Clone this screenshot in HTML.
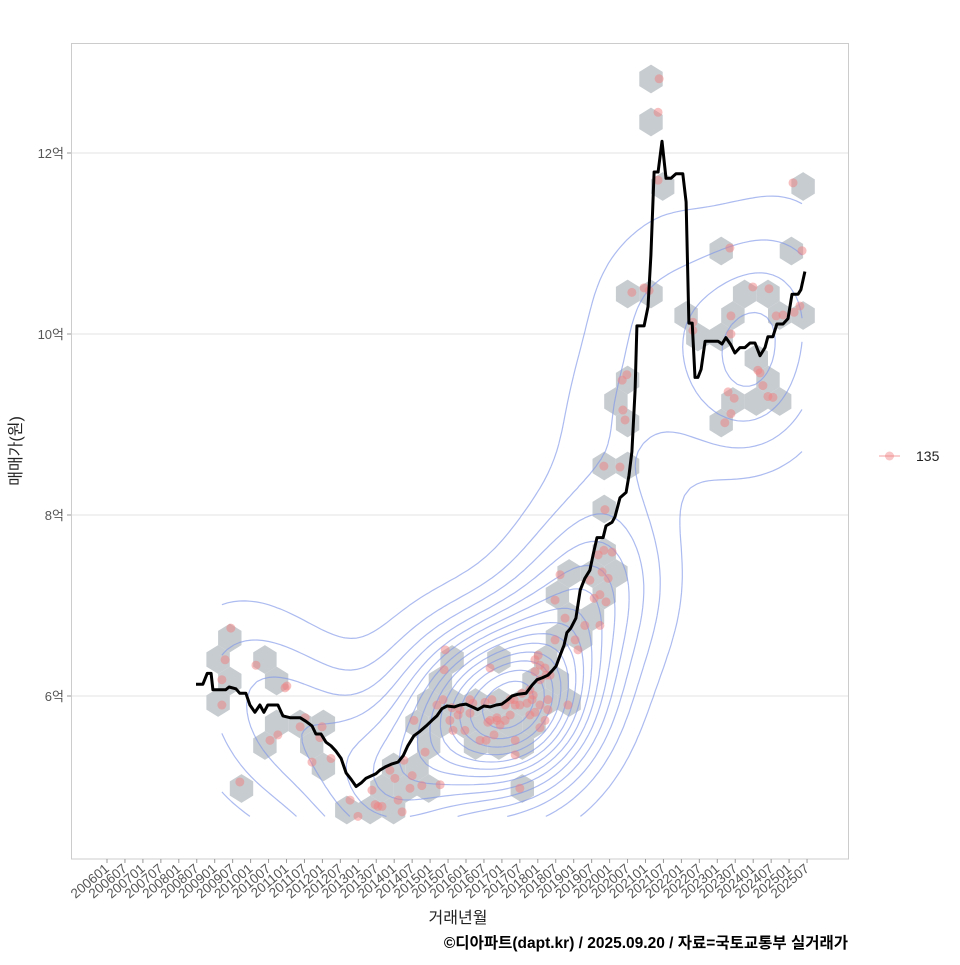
<!DOCTYPE html>
<html><head><meta charset="utf-8">
<style>
body{margin:0;background:#fff;}
svg text{font-family:"Liberation Sans","Noto Sans CJK KR",sans-serif;}
</style></head>
<body>
<svg id="chart" width="960" height="960" viewBox="0 0 960 960" xmlns="http://www.w3.org/2000/svg">
<rect x="0" y="0" width="960" height="960" fill="#fff"/>
<g id="grid"></g>
<g id="hexes"></g>
<g id="contours"></g>
<g id="points"></g>
<g id="line"></g>
<rect x="71.5" y="43.5" width="777" height="815.5" fill="none" stroke="#cccccc"/>
<g id="yaxis"></g>
<g id="xaxis"></g>
<text x="21" y="451" transform="rotate(-90 21 451)" text-anchor="middle" font-size="16" fill="#222">매매가(원)</text>
<text x="458" y="923" text-anchor="middle" font-size="16" fill="#222">거래년월</text>
<text x="848" y="948" text-anchor="end" font-size="15.5" font-weight="bold" fill="#000">©디아파트(dapt.kr) / 2025.09.20 / 자료=국토교통부 실거래가</text>
<g>
<line x1="879" y1="456" x2="900" y2="456" stroke="#f08080" stroke-opacity="0.5" stroke-width="1.5"/>
<circle cx="889.5" cy="456" r="4.5" fill="#f08080" fill-opacity="0.45"/>
<text x="916" y="461" font-size="14" fill="#222">135</text>
</g>
</svg>
<script>
const yTicks = [6, 8, 10, 12];
const yTickLabels = ["6억", "8억", "10억", "12억"];
const xTickLabels = [];
for (let y = 2006; y <= 2025; y++) { xTickLabels.push(y + "01"); xTickLabels.push(y + "07"); }

const lineT = [2008.48,2008.67,2008.79,2008.90,2008.95,2009.31,2009.40,2009.59,2009.70,2009.87,2009.98,2010.12,2010.26,2010.37,2010.48,2010.76,2010.90,2011.10,2011.38,2011.54,2011.71,2011.82,2011.96,2012.10,2012.24,2012.38,2012.52,2012.66,2012.80,2012.94,2013.08,2013.21,2013.49,2013.60,2013.77,2013.94,2014.11,2014.25,2014.38,2014.55,2014.72,2014.89,2015.05,2015.19,2015.33,2015.47,2015.67,2015.83,2016.00,2016.17,2016.33,2016.50,2016.67,2016.84,2017.00,2017.17,2017.28,2017.45,2017.67,2017.84,2017.98,2018.12,2018.28,2018.40,2018.51,2018.62,2018.73,2018.81,2018.92,2019.06,2019.18,2019.31,2019.45,2019.54,2019.65,2019.82,2019.90,2020.07,2020.15,2020.29,2020.46,2020.54,2020.62,2020.71,2020.76,2020.96,2021.07,2021.15,2021.24,2021.35,2021.46,2021.57,2021.71,2021.85,2022.04,2022.13,2022.21,2022.30,2022.38,2022.46,2022.55,2022.66,2022.85,2023.02,2023.13,2023.24,2023.38,2023.49,2023.63,2023.77,2023.91,2024.05,2024.19,2024.33,2024.41,2024.55,2024.66,2024.83,2024.97,2025.08,2025.25,2025.33,2025.44];
const lineV = [6.13,6.13,6.25,6.25,6.07,6.07,6.10,6.08,6.03,6.03,5.90,5.82,5.90,5.82,5.90,5.90,5.78,5.76,5.76,5.72,5.67,5.58,5.58,5.49,5.45,5.39,5.31,5.15,5.08,5.00,5.04,5.09,5.14,5.18,5.22,5.25,5.27,5.34,5.45,5.56,5.61,5.67,5.73,5.78,5.86,5.89,5.88,5.90,5.91,5.88,5.85,5.89,5.88,5.90,5.91,5.96,6.00,6.02,6.03,6.12,6.18,6.20,6.23,6.28,6.33,6.45,6.56,6.70,6.75,6.86,7.17,7.30,7.39,7.56,7.75,7.75,7.88,7.92,7.98,8.19,8.25,8.44,8.70,9.38,10.09,10.09,10.30,10.87,11.79,11.79,12.13,11.72,11.72,11.77,11.77,11.46,10.12,10.12,9.52,9.52,9.61,9.92,9.92,9.92,9.89,9.96,9.88,9.79,9.85,9.85,9.90,9.90,9.76,9.85,9.97,9.97,10.11,10.11,10.17,10.44,10.44,10.49,10.69];

const ptT = [2009.45,2009.29,2009.20,2009.20,2010.15,2011.01,2010.96,2010.54,2010.76,2009.70,2011.71,2011.38,2011.52,2011.99,2011.93,2012.24,2012.77,2012.99,2013.38,2013.47,2013.55,2013.66,2013.88,2014.02,2014.27,2014.44,2014.11,2014.22,2014.50,2014.77,2014.55,2014.86,2015.28,2015.19,2015.42,2015.39,2015.55,2015.64,2015.83,2015.97,2016.11,2016.39,2016.56,2016.67,2016.72,2016.78,2016.86,2017.09,2017.23,2017.34,2017.37,2017.50,2017.70,2017.78,2017.87,2017.92,2018.01,2018.06,2018.23,2018.28,2018.48,2018.48,2018.62,2018.76,2018.84,2019.04,2019.31,2019.45,2019.57,2019.73,2019.79,2019.68,2019.84,2019.90,2019.96,2020.07,2019.12,2019.73,2019.87,2019.84,2020.29,2020.43,2020.37,2020.35,2020.48,2020.62,2020.96,2021.10,2021.35,2021.38,2021.35,2022.32,2022.32,2023.35,2023.38,2023.38,2023.30,2023.21,2023.38,2023.47,2023.99,2024.44,2024.64,2024.83,2025.14,2025.30,2025.36,2025.11,2024.19,2024.27,2024.13,2024.41,2024.55,
2015.36,2015.61,2015.78,2016.11,2016.19,2016.53,2016.67,2016.86,2017.09,2017.23,2017.37,2017.50,2017.56,2017.78,2017.84,2017.92,2018.06,2018.20,2018.28,2018.06,2018.20,2018.34,2017.92,2018.06,2017.37,2016.95,2016.61];
const ptV = [6.75,6.40,6.18,5.90,6.34,6.11,6.09,5.51,5.57,5.05,5.27,5.66,5.76,5.66,5.54,5.31,4.85,4.67,4.96,4.80,4.78,4.78,5.18,5.09,5.29,4.98,4.85,4.72,5.12,5.01,5.73,5.38,5.02,5.90,6.51,6.29,5.73,5.62,5.85,5.62,5.96,5.51,5.51,6.31,5.96,5.57,5.73,5.90,5.96,5.96,5.35,4.98,5.92,5.79,6.01,6.40,6.45,6.18,6.23,5.85,6.62,7.06,7.34,6.86,5.90,6.62,6.78,7.28,7.08,7.12,7.37,7.56,7.61,7.04,7.30,7.59,6.51,6.78,8.06,8.54,8.53,9.05,9.16,9.49,9.55,10.46,10.51,10.48,12.45,12.82,11.70,10.13,10.04,10.95,10.20,10.00,9.36,9.02,9.12,9.29,10.52,10.50,10.20,10.21,10.24,10.31,10.92,11.67,9.57,9.43,9.60,9.31,9.30,
5.96,5.87,5.79,5.81,5.92,5.93,5.73,5.76,5.73,5.79,5.90,5.90,6.03,6.07,5.96,5.82,5.90,5.73,5.96,6.34,6.31,6.23,6.27,5.65,5.51,5.68,5.71];

const NS = "http://www.w3.org/2000/svg";
const xS = t => 107 + (t - 2006) * 35.9;
const yS = v => 696 - (v - 6) * 90.5;
function mk(tag, attrs, parent) {
  const e = document.createElementNS(NS, tag);
  for (const k in attrs) e.setAttribute(k, attrs[k]);
  parent.appendChild(e);
  return e;
}
const gGrid = document.getElementById('grid');
const gY = document.getElementById('yaxis');
yTicks.forEach((v, i) => {
  const l = mk('line', {x1: 72, x2: 848, y1: yS(v), y2: yS(v), stroke: '#e3e3e3', 'stroke-width': 1}, gGrid);
  
  
  const tk = mk('line', {x1: 67, x2: 71, y1: yS(v), y2: yS(v), stroke: '#999'}, gY);
  
  
  const t = mk('text', {x: 64, y: yS(v) + 5, 'text-anchor': 'end', 'font-size': 13, fill: '#555'}, gY);
  t.textContent = yTickLabels[i];
  
  
});
const gX = document.getElementById('xaxis');
xTickLabels.forEach((s, i) => {
  const t0 = 2006 + i * 0.5;
  const x = xS(t0);
  const tk = mk('line', {x1: x, x2: x, y1: 859, y2: 863, stroke: '#999'}, gX);
  
  
  const t = mk('text', {x: x + 3, y: 870, 'text-anchor': 'end', 'font-size': 13.5, fill: '#555', transform: `rotate(-40 ${x + 3} 870)`}, gX);
  t.textContent = s;
  
  
});

const gH = document.getElementById('hexes');
const hx0 = 651, hy0 = 79, hdx = 23.4, hdy = 21.5, hr = 14.33;
const bins = {};
ptT.forEach((t, i) => {
  const px = xS(t), py = yS(ptV[i]);
  const k0 = Math.floor((py - hy0) / hdy);
  let best = null, bd = 1e9;
  for (let k = k0 - 1; k <= k0 + 2; k++) {
    const off = (Math.abs(k) % 2 === 1) ? hdx / 2 : 0;
    const j = Math.round((px - hx0 - off) / hdx);
    for (let jj = j - 1; jj <= j + 1; jj++) {
      const cx = hx0 + off + jj * hdx, cy = hy0 + k * hdy;
      const d = (px - cx) ** 2 + ((py - cy) * hdx / (hdy * 1.155)) ** 2;
      if (d < bd) { bd = d; best = [cx, cy]; }
    }
  }
  const key = best[0].toFixed(1) + ',' + best[1].toFixed(1);
  bins[key] = best;
});
Object.values(bins).forEach(([cx, cy]) => {
  const w = hdx / 2, h = hr / 2;
  const d = `M${cx},${cy - hr}L${cx + w},${cy - h}L${cx + w},${cy + h}L${cx},${cy + hr}L${cx - w},${cy + h}L${cx - w},${cy - h}Z`;
  const p = mk('path', {d, fill: '#c4c9cd', 'fill-opacity': 0.95}, gH);
  
  
});

function quant(a, q) { const s = [...a].sort((x, y) => x - y); const pos = (s.length - 1) * q; const lo = Math.floor(pos); return s[lo] + (s[Math.min(lo + 1, s.length - 1)] - s[lo]) * (pos - lo); }
function sdOf(a) { const m = a.reduce((s, x) => s + x, 0) / a.length; return Math.sqrt(a.reduce((s, x) => s + (x - m) ** 2, 0) / (a.length - 1)); }
function bwSd(a) { const h = (quant(a, .75) - quant(a, .25)) / 1.34; return 1.06 * Math.min(sdOf(a), h) * Math.pow(a.length, -0.2); }
const n = ptT.length, G = 100;
const sx = bwSd(ptT), sy = bwSd(ptV);
const tMin = Math.min(...ptT), tMax = Math.max(...ptT), vMin = Math.min(...ptV), vMax = Math.max(...ptV);
const gx = [], gy = [];
for (let i = 0; i < G; i++) { gx.push(tMin + (tMax - tMin) * i / (G - 1)); gy.push(vMin + (vMax - vMin) * i / (G - 1)); }
const Z = [];
let zmax = 0;
for (let j = 0; j < G; j++) {
  const row = [];
  for (let i = 0; i < G; i++) {
    let s = 0;
    for (let k = 0; k < n; k++) {
      const a = (gx[i] - ptT[k]) / sx, b = (gy[j] - ptV[k]) / sy;
      s += Math.exp(-0.5 * (a * a + b * b));
    }
    row.push(s); if (s > zmax) zmax = s;
  }
  Z.push(row);
}
const gC = document.getElementById('contours');
const nLev = 15;
for (let L = 1; L < nLev; L++) {
  const lev = zmax * L / nLev;
  let d = '';
  for (let j = 0; j < G - 1; j++) for (let i = 0; i < G - 1; i++) {
    const c = [[i, j], [i + 1, j], [i + 1, j + 1], [i, j + 1]];
    const vals = c.map(([a, b]) => Z[b][a]);
    const pts = [];
    for (let e = 0; e < 4; e++) {
      const v1 = vals[e], v2 = vals[(e + 1) % 4];
      if ((v1 < lev) !== (v2 < lev)) {
        const f = (lev - v1) / (v2 - v1);
        const [a1, b1] = c[e], [a2, b2] = c[(e + 1) % 4];
        const ti = gx[a1] + (gx[a2] - gx[a1]) * f, vi = gy[b1] + (gy[b2] - gy[b1]) * f;
        pts.push([xS(ti), yS(vi)]);
      }
    }
    for (let q = 0; q + 1 < pts.length; q += 2)
      d += `M${pts[q][0].toFixed(1)},${pts[q][1].toFixed(1)}L${pts[q + 1][0].toFixed(1)},${pts[q + 1][1].toFixed(1)}`;
  }
  const p = mk('path', {d, fill: 'none', stroke: '#7f97e8', 'stroke-opacity': 0.65, 'stroke-width': 1.2}, gC);
  
  
}

const gP = document.getElementById('points');
ptT.forEach((t, i) => {
  const c = mk('circle', {cx: xS(t), cy: yS(ptV[i]), r: 4.5, fill: '#f08080', 'fill-opacity': 0.5}, gP);
  
  
});

const gL = document.getElementById('line');
const ld = lineT.map((t, i) => (i ? 'L' : 'M') + xS(t).toFixed(1) + ',' + yS(lineV[i]).toFixed(1)).join('');
const lp = mk('path', {d: ld, fill: 'none', stroke: '#000', 'stroke-width': 3, 'stroke-linejoin': 'round'}, gL);


</script>
</body></html>
